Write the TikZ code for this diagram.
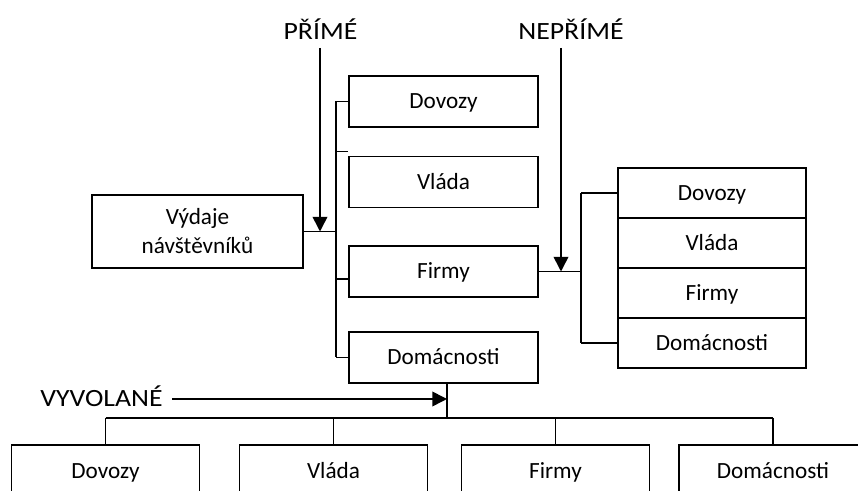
\documentclass[tikz,border=0pt]{standalone}
\usepackage{fontspec}
\setmainfont{Carlito}
\newfontfamily\labelfont[FakeStretch=1.12]{Carlito}
\usetikzlibrary{arrows.meta}

\begin{document}
\begin{tikzpicture}[x=0.75pt,y=-0.75pt,
  every node/.style={font=\fontsize{17.4}{21.75}\selectfont},
  box/.style={draw,line width=1.4pt,inner sep=0pt,align=center},
  onebox/.style={box,text height=11.25pt,text depth=0pt},
  colbox/.style={onebox,minimum width=141.75pt,minimum height=38.25pt},
  stackbox/.style={onebox,minimum width=141pt,minimum height=37.5pt},
  lowbox/.style={onebox,minimum width=141pt,minimum height=39pt},
  tag/.style={anchor=base,font=\labelfont\fontsize{18.6}{22}\selectfont},
  link/.style={line width=1.2pt},
  arr/.style={line width=1.2pt,-{Triangle[length=11pt,width=11pt]}}]

\useasboundingbox (0,0) rectangle (858,491);
\clip (0,0) rectangle (858,491);

\node[box,minimum width=158.25pt,minimum height=54.75pt] (vyd) at (197.5,231.5) {Výdaje\\návštěvníků};

\node[colbox] (dov1) at (443.5,101.5) {Dovozy};
\node[colbox] (vla1) at (443.5,182) {Vláda};
\node[colbox] (fir1) at (443.5,271.5) {Firmy};
\node[colbox] (dom1) at (443.5,357.5) {Domácnosti};

\node[stackbox] (dov2) at (712,193) {Dovozy};
\node[stackbox] (vla2) at (712,243) {Vláda};
\node[stackbox] (fir2) at (712,293) {Firmy};
\node[stackbox] (dom2) at (712,343) {Domácnosti};

\node[lowbox] (dov3) at (105.5,471) {Dovozy};
\node[lowbox] (vla3) at (333.5,471) {Vláda};
\node[lowbox] (fir3) at (555.5,471) {Firmy};
\node[lowbox] (dom3) at (773,471) {Domácnosti};

\node[tag] (prime) at (320.5,39.3) {PŘÍMÉ};
\node[tag] (neprime) at (571,39.3) {NEPŘÍMÉ};
\node[tag] (vyvol) at (101.5,407) {VYVOLANÉ};

\coordinate (lbus) at (336,232);
\coordinate (rbus) at (581,271.5);
\coordinate (hub) at (447,418);
\coordinate (primeA) at (320,48);
\coordinate (neprA) at (561,48);
\coordinate (vyvA) at (172,399);

\draw[link] (vyd.east) -- (vyd.east -| lbus);
\draw[link] (lbus |- dov1.west) -- (lbus |- dom1.west);
\draw[link] (lbus |- dov1.west) -- (dov1.west);
\draw[link] ([yshift=3pt]vla1.north west -| lbus) -- ([yshift=3pt]vla1.north west);
\draw[link] ([yshift=-5.6pt]fir1.west -| lbus) -- ([yshift=-5.6pt]fir1.west);
\draw[link] (lbus |- dom1.west) -- (dom1.west);
\draw[arr] (primeA) -- (primeA |- vyd.east);

\draw[link] (fir1.east) -- (rbus);
\draw[link] (rbus |- dov2.west) -- (rbus |- dom2.west);
\draw[link] (rbus |- dov2.west) -- (dov2.west);
\draw[link] (rbus |- dom2.west) -- (dom2.west);
\draw[arr] (neprA) -- (neprA |- fir1.east);

\draw[link] (dom1.south -| hub) -- (hub);
\draw[link] (dov3.north |- hub) -- (dom3.north |- hub);
\foreach \b in {dov3,vla3,fir3,dom3}
  \draw[link] (\b.north |- hub) -- (\b.north);
\draw[arr] (vyvA) -- (vyvA -| hub);

\end{tikzpicture}
\end{document}
